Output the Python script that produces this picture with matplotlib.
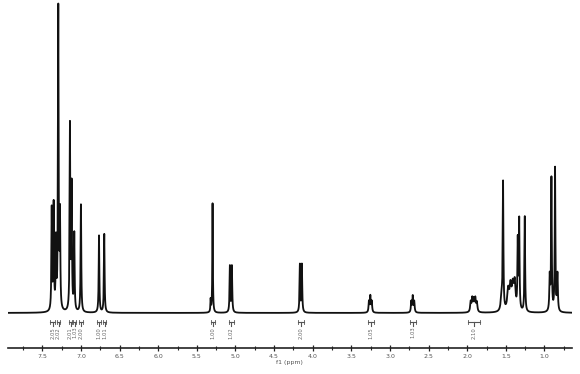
import numpy as np
import matplotlib
matplotlib.use("Agg")
import matplotlib.pyplot as plt
from matplotlib.ticker import MultipleLocator

# peak list (ppm, relative height, half width)
PEAK_PPM = [7.378, 7.353, 7.323, 7.293, 7.271, 7.142, 7.120, 7.086, 7.000,
            6.766, 6.698, 5.321, 5.296, 5.072, 5.046, 4.166, 4.140,
            3.272, 3.254, 3.236, 2.724, 2.705, 2.686,
            1.955, 1.935, 1.915, 1.895, 1.875,
            1.555, 1.536, 1.470, 1.440, 1.410, 1.385, 1.346, 1.327, 1.255,
            0.932, 0.910, 0.863, 0.832]
PEAK_HEIGHT = [33, 34, 22, 98, 30, 60, 40, 25, 35,
               25, 25.5, 4, 35.5, 15, 15, 15.5, 15.5,
               3.5, 5.2, 3.5, 3.5, 5.2, 3.5,
               3.2, 4.2, 3.8, 4.2, 3.0,
               5, 41, 6.5, 7.5, 7.5, 8.5, 22, 29, 31,
               11, 43, 46.5, 12]
PEAK_WIDTH = [0.005, 0.005, 0.005, 0.005, 0.005, 0.005, 0.005, 0.005, 0.005,
              0.005, 0.005, 0.004, 0.004, 0.005, 0.005, 0.005, 0.005,
              0.006, 0.006, 0.006, 0.006, 0.006, 0.006,
              0.008, 0.008, 0.008, 0.008, 0.008,
              0.012, 0.005, 0.014, 0.014, 0.014, 0.012, 0.005, 0.005, 0.005,
              0.006, 0.005, 0.005, 0.006]

# integration regions (ppm from, ppm to, value)
INT_FROM = [7.40, 7.31, 7.16, 7.10, 7.03, 6.79, 6.72, 5.32, 5.09, 4.19, 3.29, 2.74, 1.99]
INT_TO = [7.33, 7.27, 7.11, 7.06, 6.97, 6.74, 6.67, 5.27, 5.02, 4.11, 3.21, 2.66, 1.84]
INT_VAL = ["2.05", "2.02", "2.01", "1.03", "2.00", "1.00", "1.01",
           "1.00", "1.02", "2.00", "1.05", "1.03", "2.10"]

TICK_PPM = np.arange(1.0, 7.51, 0.5)

ppm = np.linspace(0.647, 7.944, 40000)
spec = np.zeros_like(ppm)
for x0, h, w in zip(PEAK_PPM, PEAK_HEIGHT, PEAK_WIDTH):
    spec += h * w ** 2 / ((ppm - x0) ** 2 + w ** 2)

fig = plt.figure(figsize=(5.8, 3.74), dpi=100)
ax = fig.add_axes([0.0138, 0.0695, 0.972, 0.925])
ax.plot(ppm, spec, color="#111111", linewidth=1.3)
ax.set_xlim(7.944, 0.647)
ax.set_ylim(-11.4, 101)

for a, b, v in zip(INT_FROM, INT_TO, INT_VAL):
    ax.plot([a, b], [-3.0, -3.0], color="#555555", linewidth=0.8)
    ax.plot([a, a], [-2.3, -3.7], color="#555555", linewidth=0.6)
    ax.plot([b, b], [-2.3, -3.7], color="#555555", linewidth=0.6)
    ax.plot([(a + b) / 2] * 2, [-3.0, -4.2], color="#555555", linewidth=0.8)
    ax.text((a + b) / 2, -4.5, v, rotation=90, ha="center", va="top",
            fontsize=3.8, color="#666666")

for s in ["top", "left", "right"]:
    ax.spines[s].set_visible(False)
ax.spines["bottom"].set_linewidth(1.2)
ax.spines["bottom"].set_color("#222222")
ax.set_yticks([])
ax.set_xticks(TICK_PPM)
ax.set_xticklabels([f"{t:.1f}" for t in TICK_PPM])
ax.xaxis.set_minor_locator(MultipleLocator(0.25))
ax.tick_params(axis="x", which="major", direction="inout", length=4, width=0.9,
               labelsize=4.5, labelcolor="#555555", pad=2, color="#222222")
ax.tick_params(axis="x", which="minor", direction="inout", length=3, width=0.8,
               color="#222222")
ax.set_xlabel("f1 (ppm)", fontsize=4.5, color="#555555", labelpad=1)

fig.savefig("out.png", dpi=100)
